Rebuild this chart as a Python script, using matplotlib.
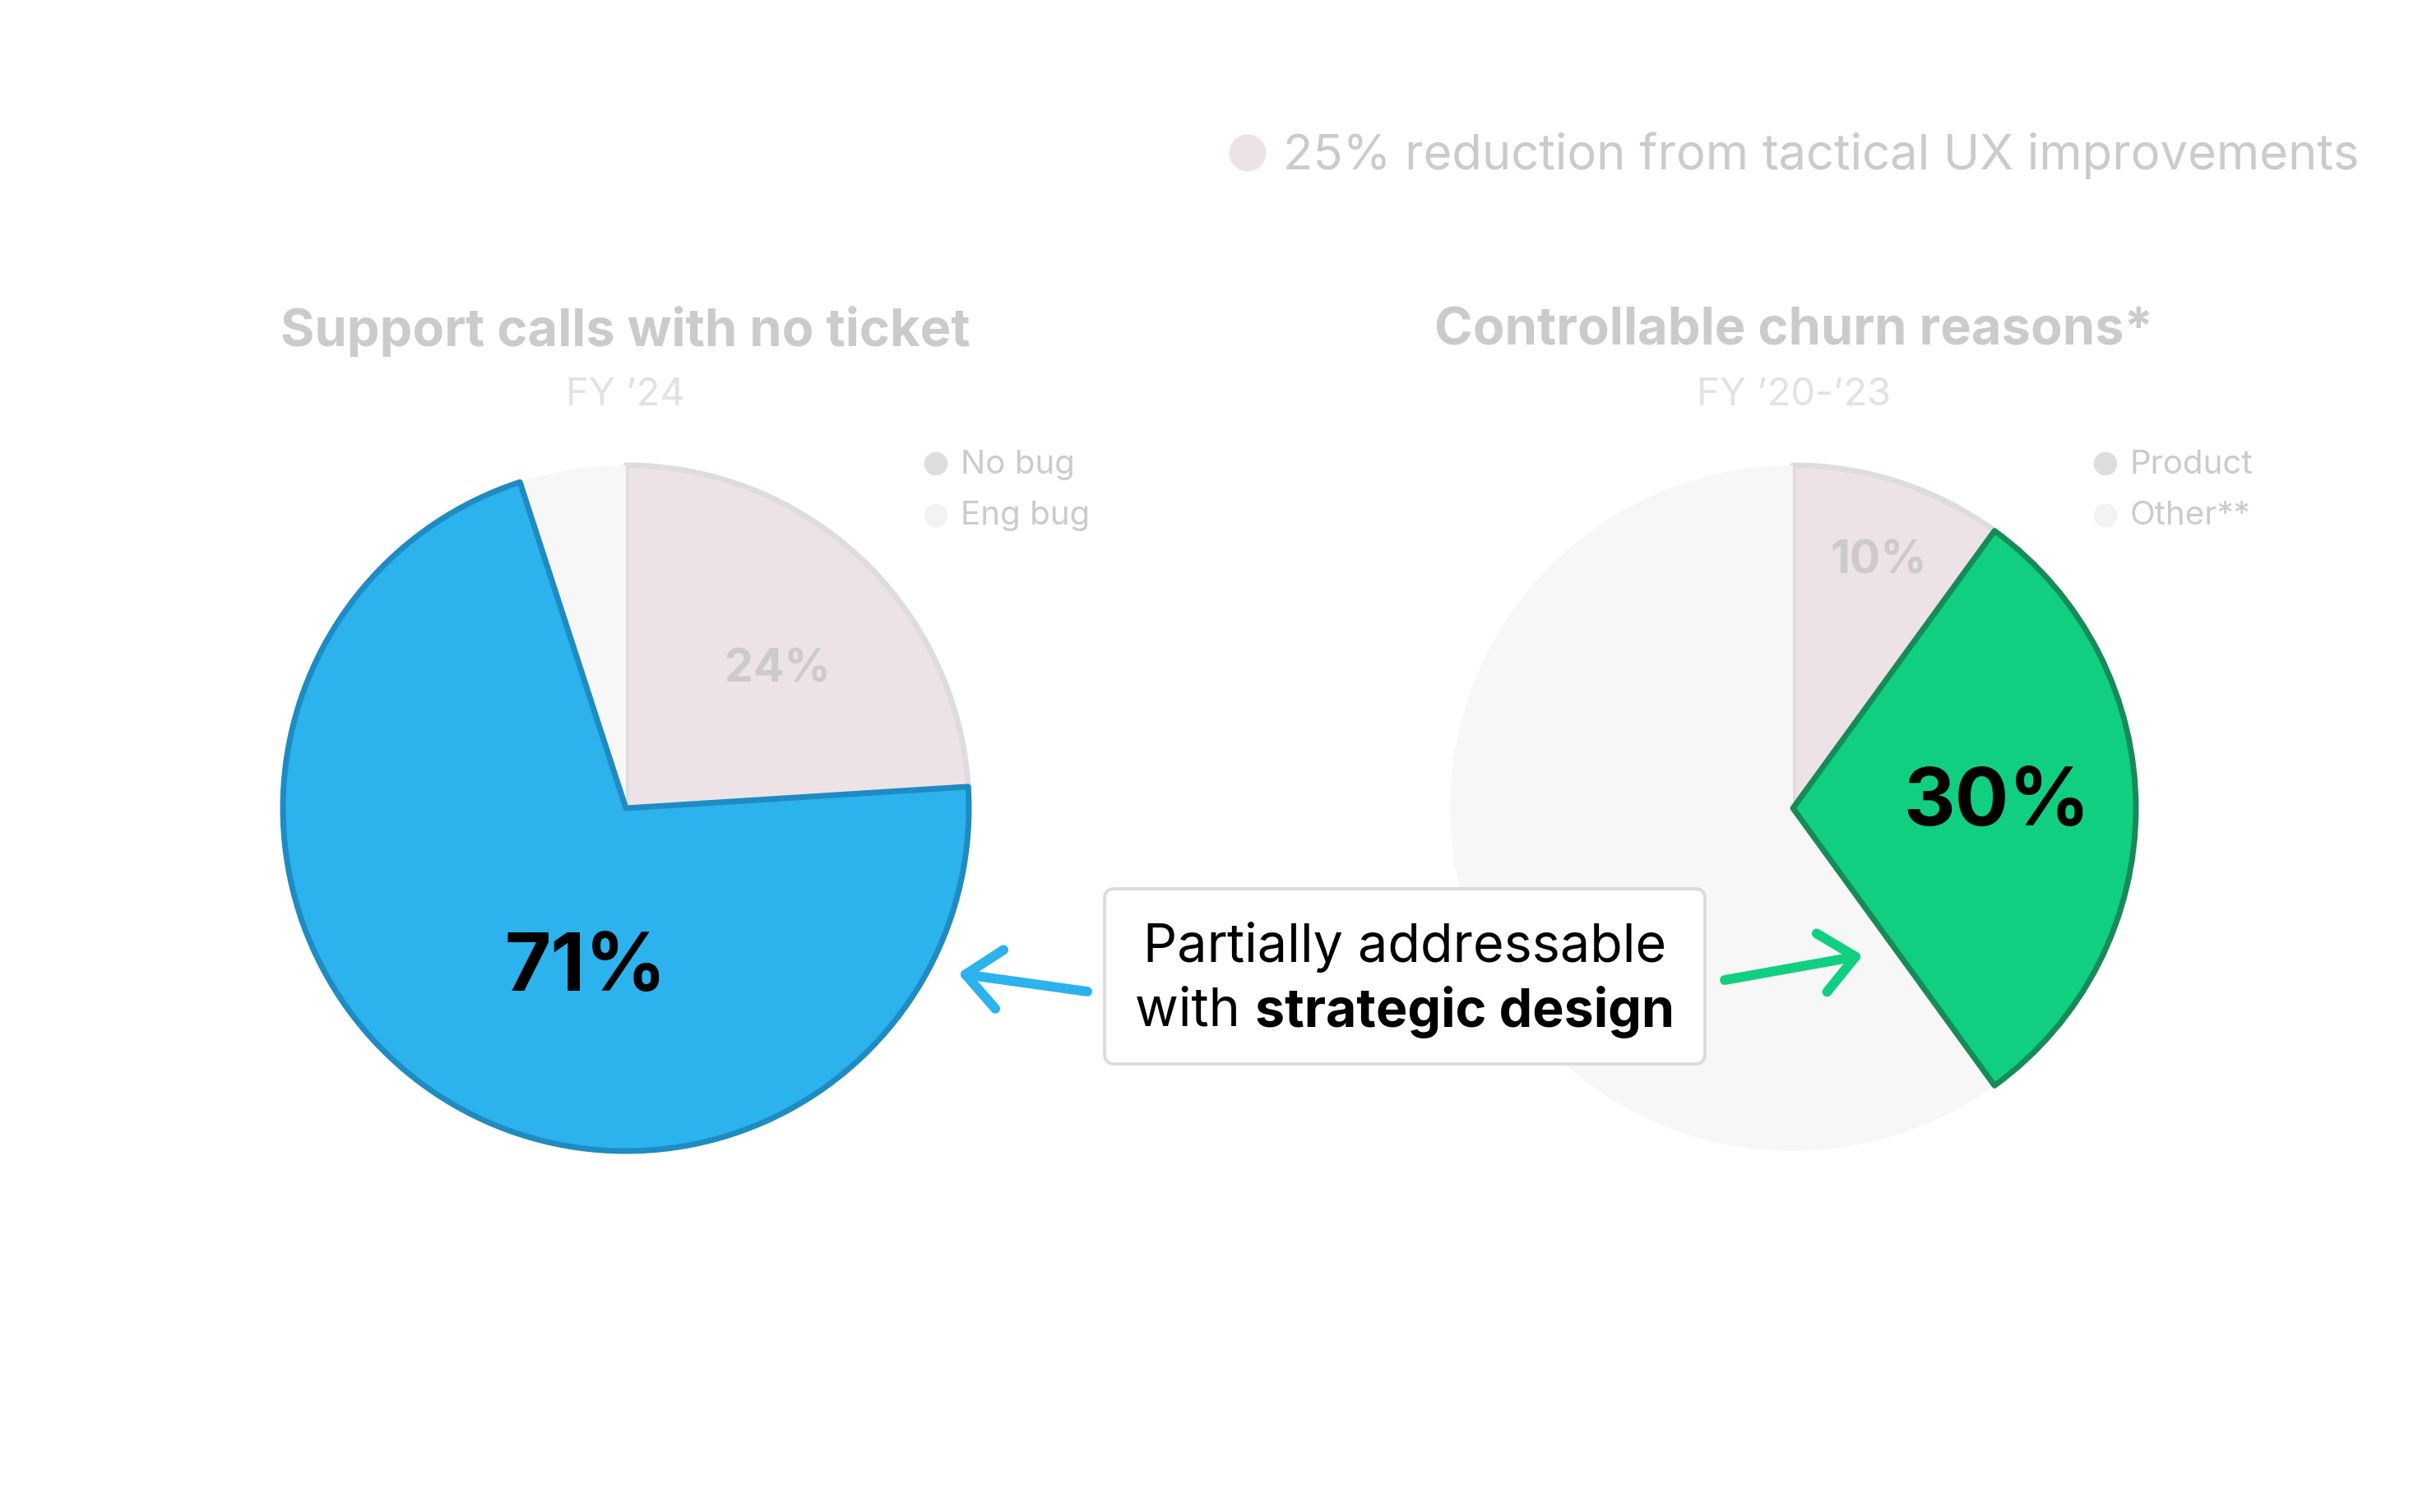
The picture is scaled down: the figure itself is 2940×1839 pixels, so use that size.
import matplotlib
matplotlib.use("Agg")
import matplotlib.pyplot as plt
from matplotlib.patches import FancyBboxPatch

plt.rcParams['font.family'] = ['Inter', 'DejaVu Sans']

# ---- data ----
top_note = "25% reduction from tactical UX improvements"

left_title = "Support calls with no ticket"
left_sub = "FY \u201924"
left_values = [24, 71, 5]
left_pct_labels = ["24%", "71%", ""]
left_legend = ["No bug", "Eng bug"]

right_title = "Controllable churn reasons*"
right_sub = "FY \u201920-\u201923"
right_values = [10, 30, 60]
right_pct_labels = ["10%", "30%", ""]
right_legend = ["Product", "Other**"]

box_line1 = "Partially addressable"
box_line2_reg = "with "
box_line2_bold = "strategic design"

# ---- styles ----
W, H = 2940, 1840
PINK = "#EDE3E6"
LGRAY = "#F7F7F7"
BLUE = "#2CB2EC"
BLUE_E = "#1E8BC2"
GREEN = "#10CF80"
GREEN_E = "#178A5A"
PINK_E = "#DEDCDE"
TXT_GRAY = "#CBCBCB"
SUB_GRAY = "#E2E2E2"

fig = plt.figure(figsize=(W / 100, H / 100), dpi=100)
ax = fig.add_axes([0, 0, 1, 1])
ax.set_xlim(0, W)
ax.set_ylim(0, H)
ax.set_aspect('equal')
ax.axis('off')

def Y(y):
    return H - y

R = 417

def draw_pie(cx, cy, values, colors, edges, lws, labels, label_pos, label_sizes, label_colors):
    wedges, _ = ax.pie(values, colors=colors, startangle=90, counterclock=False,
                       center=(cx, Y(cy)), radius=R, frame=True,
                       wedgeprops=dict(linewidth=0))
    for w, ec, lw in zip(wedges, edges, lws):
        if ec is not None:
            w.set_edgecolor(ec)
            w.set_linewidth(lw)
            w.set_joinstyle('round')
    for lab, (lx, ly), fs, c in zip(labels, label_pos, label_sizes, label_colors):
        if lab:
            ax.text(lx, Y(ly), lab, ha='center', va='center', fontsize=fs,
                    fontweight='bold', color=c, zorder=6)
    return wedges

lw_w = draw_pie(761, 984, left_values, [PINK, BLUE, LGRAY], [PINK_E, BLUE_E, None],
                [5, 5, 0], left_pct_labels, [(945, 814), (712, 1180), (0, 0)],
                [40, 70, 10], [TXT_GRAY, "black", "black"])
lw_w[1].set_zorder(3)
rw_w = draw_pie(2180, 984, right_values, [PINK, GREEN, LGRAY], [PINK_E, GREEN_E, None],
                [5, 5, 0], right_pct_labels, [(2284, 682), (2428, 979), (0, 0)],
                [40, 70, 10], [TXT_GRAY, "black", "black"])
rw_w[1].set_zorder(3)

ax.set_xlim(0, W)
ax.set_ylim(0, H)

# titles
ax.text(760, Y(403), left_title, ha='center', va='center', fontsize=45.5,
        fontweight='bold', color=TXT_GRAY)
ax.text(760, Y(481), left_sub, ha='center', va='center', fontsize=34, color=SUB_GRAY)
ax.text(2181, Y(403), right_title, ha='center', va='center', fontsize=45.5,
        fontweight='bold', color=TXT_GRAY)
ax.text(2181, Y(481), right_sub, ha='center', va='center', fontsize=34, color=SUB_GRAY)

# top note
ax.scatter([1517], [Y(187)], s=1050, color=PINK, edgecolors='none', zorder=5)
ax.text(1560, Y(189), top_note, ha='left', va='center', fontsize=43, color=TXT_GRAY)

# legends
dot_cols = ["#DDDDDD", "#F3F3F3"]
for (lx, labels) in [(1138, left_legend), (2560, right_legend)]:
    for i, lab in enumerate(labels):
        yy = 565 + i * 63
        ax.scatter([lx], [Y(yy)], s=420, color=dot_cols[i], edgecolors='none', zorder=5)
        ax.text(lx + 30, Y(yy), lab, ha='left', va='center', fontsize=29, color=TXT_GRAY)

# box
bx0, bx1, by0, by1 = 1343, 2073, 1082, 1295
box = FancyBboxPatch((bx0, Y(by1)), bx1 - bx0, by1 - by0,
                     boxstyle="round,pad=0,rounding_size=12",
                     facecolor="white", edgecolor="#DDDBDD", linewidth=2.8, zorder=6)
ax.add_patch(box)
bcx = (bx0 + bx1) / 2
BFS = 46.5
ax.text(bcx, Y(1152), box_line1, ha='center', va='center', fontsize=BFS, color='black', zorder=7)
fig.canvas.draw()
r = fig.canvas.get_renderer()
t_reg = ax.text(0, Y(1231), box_line2_reg, ha='left', va='center', fontsize=BFS, color='black', zorder=7)
t_bold = ax.text(0, Y(1231), box_line2_bold, ha='left', va='center', fontsize=BFS,
                 fontweight='bold', color='black', zorder=7)
w_reg = t_reg.get_window_extent(r).width
w_bold = t_bold.get_window_extent(r).width
sp = ax.text(0, 0, "with", fontsize=BFS)
w_with = sp.get_window_extent(r).width
sp.remove()
space = w_reg - w_with if w_reg > w_with else 14
total = w_with + space + w_bold
x0 = bcx - total / 2
t_reg.set_x(x0)
t_bold.set_x(x0 + w_with + space)

# arrows
astyle = "->,head_length=3.0,head_width=2.6"
ax.annotate("", xy=(1165, Y(1185)), xytext=(1322, Y(1207)),
            arrowprops=dict(arrowstyle=astyle, color=BLUE, lw=8.5,
                            capstyle='round', joinstyle='round',
                            shrinkA=0, shrinkB=0), zorder=8)
ax.annotate("", xy=(2265, Y(1163)), xytext=(2097, Y(1193)),
            arrowprops=dict(arrowstyle=astyle, color=GREEN, lw=8.5,
                            capstyle='round', joinstyle='round',
                            shrinkA=0, shrinkB=0), zorder=8)

fig.savefig("out.png", dpi=100, facecolor="white")
